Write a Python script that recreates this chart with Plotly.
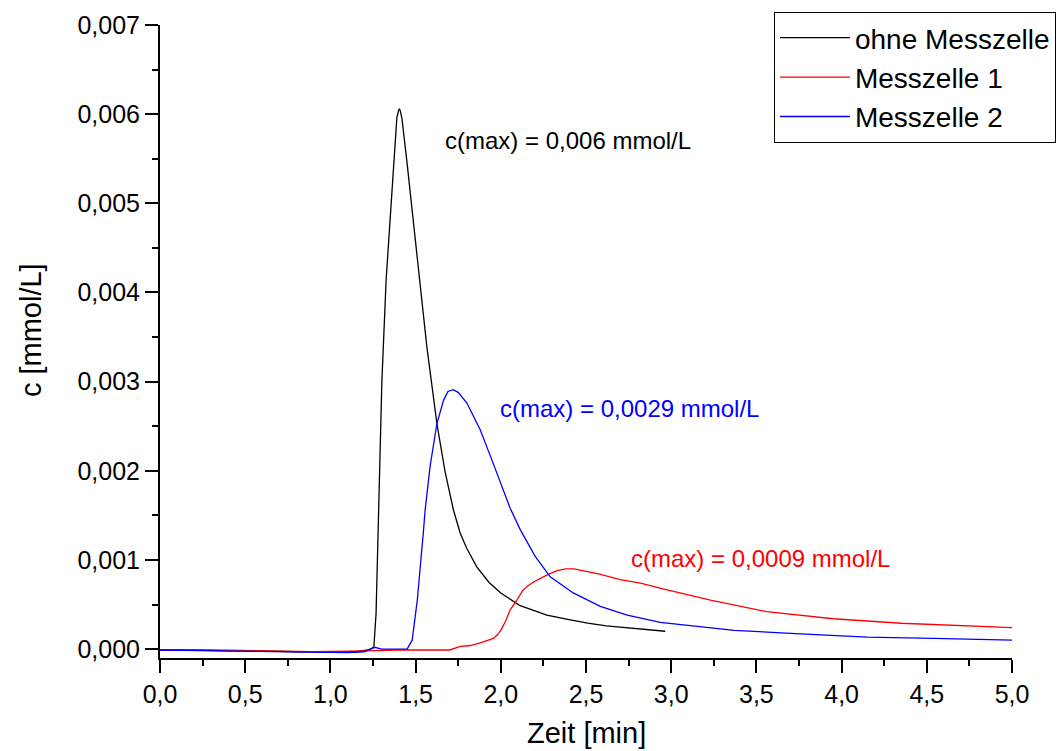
import plotly.graph_objects as go

# ---- data ----
t_ohne = [0.0, 0.2, 0.4, 0.6, 0.8, 1.0, 1.15, 1.22, 1.255, 1.268, 1.282, 1.302, 1.327, 1.355, 1.375, 1.39,
          1.40, 1.405, 1.41, 1.42, 1.45, 1.48, 1.523, 1.566, 1.625, 1.672, 1.722, 1.762, 1.8, 1.86, 1.93,
          2.0, 2.11, 2.27, 2.4, 2.51, 2.62, 2.74, 2.85, 2.965]
c_ohne = [-0.00001, -0.00001, -0.00002, -0.00002, -0.00003, -0.00003, -0.00003, -0.00001, 0.00002, 0.0004,
          0.00156, 0.0030, 0.00414, 0.0050, 0.0056, 0.00596, 0.00604, 0.00606, 0.00604, 0.00595, 0.00545,
          0.0049, 0.00414, 0.00339, 0.00253, 0.0020, 0.00156, 0.0013, 0.00113, 0.00092, 0.00075, 0.00063,
          0.00049, 0.00038, 0.00033, 0.00029, 0.00026, 0.00024, 0.00022, 0.0002]

t_mz1 = [0.0, 0.3, 0.6, 0.9, 1.2, 1.4, 1.6, 1.70, 1.762, 1.82, 1.88, 1.957, 1.98, 2.0, 2.03, 2.055, 2.094,
         2.13, 2.16, 2.19, 2.23, 2.27, 2.33, 2.38, 2.43, 2.51, 2.58, 2.70, 2.82, 2.94, 3.23, 3.56, 3.95,
         4.35, 4.74, 5.0]
c_mz1 = [-0.00001, -0.00001, -0.00002, -0.00003, -0.00002, -0.00001, -0.00001, -0.00001, 0.00003, 0.00004,
         0.00007, 0.00012, 0.00016, 0.00021, 0.00032, 0.00044, 0.00055, 0.00066, 0.00071, 0.00075, 0.00079,
         0.00083, 0.00088, 0.0009, 0.0009, 0.00087, 0.00084, 0.00078, 0.00074, 0.00068, 0.00055, 0.00042,
         0.00034, 0.00029, 0.00026, 0.00024]

t_mz2 = [0.0, 0.3, 0.6, 0.9, 1.1, 1.2, 1.26, 1.3, 1.4, 1.45, 1.48, 1.51, 1.545, 1.556, 1.585, 1.625, 1.664,
         1.69, 1.72, 1.75, 1.801, 1.879, 1.938, 1.996, 2.055, 2.114, 2.202, 2.29, 2.425, 2.584, 2.742, 2.936,
         3.37, 3.76, 4.15, 4.54, 5.0]
c_mz2 = [-0.00001, -0.00002, -0.00003, -0.00004, -0.00004, -0.00003, 0.00002, 0.0, 0.0, 0.0, 0.0001,
         0.00055, 0.0013, 0.00156, 0.00205, 0.00253, 0.00279, 0.00289, 0.00291, 0.00288, 0.00276, 0.00246,
         0.00217, 0.00187, 0.00158, 0.00134, 0.00104, 0.00081, 0.00063, 0.00048, 0.00038, 0.0003, 0.00021,
         0.00017, 0.000135, 0.00012, 0.0001]

series_names = ["ohne Messzelle", "Messzelle 1", "Messzelle 2"]
series_colors = ["#000000", "#ff0000", "#0000ff"]
annot_texts = ["c(max) = 0,006 mmol/L", "c(max) = 0,0029 mmol/L", "c(max) = 0,0009 mmol/L"]
x_title = "Zeit [min]"
y_title = "c [mmol/L]"

FONT = "Liberation Sans, Arial, sans-serif"

fig = go.Figure()
for t, c, name, col in zip([t_ohne, t_mz1, t_mz2], [c_ohne, c_mz1, c_mz2], series_names, series_colors):
    fig.add_trace(go.Scatter(x=t, y=c, mode="lines", name=name,
                             line=dict(color=col, width=1.3)))

# value annotations
for txt, col, ax, ay in zip(annot_texts, ["#000000", "#0000ff", "#ff0000"],
                            [1.662, 1.985, 2.754], [0.00571, 0.0027, 0.00102]):
    fig.add_annotation(x=ax, y=ay, text=txt, xanchor="left", yanchor="middle",
                       showarrow=False, font=dict(family=FONT, size=24, color=col))

# axis titles
fig.add_annotation(x=0.5, y=-0.1185, xref="paper", yref="paper", text=x_title,
                   xanchor="center", yanchor="middle", showarrow=False,
                   font=dict(family=FONT, size=29, color="black"))
fig.add_annotation(x=-0.1514, y=0.518, xref="paper", yref="paper", text=y_title, textangle=-90,
                   xanchor="center", yanchor="middle", showarrow=False,
                   font=dict(family=FONT, size=29, color="black"))

axis_common = dict(showgrid=False, zeroline=False, showline=True, linecolor="black", linewidth=2,
                   ticks="outside", ticklen=13, tickwidth=2, tickcolor="black",
                   tickfont=dict(family=FONT, size=25, color="black"))

fig.update_xaxes(range=[0, 5], dtick=0.5, tick0=0, tickformat=".1f",
                 minor=dict(ticks="outside", ticklen=6, tickwidth=2, tickcolor="black", dtick=0.25),
                 **axis_common)
fig.update_yaxes(range=[-0.0001, 0.007], dtick=0.001, tick0=0, tickformat=".3f",
                 minor=dict(ticks="outside", ticklen=6, tickwidth=2, tickcolor="black", dtick=0.0005),
                 **axis_common)

fig.update_layout(
    width=1061, height=751,
    margin=dict(l=160, r=49, t=25, b=93, autoexpand=False),
    paper_bgcolor="white", plot_bgcolor="white",
    separators=",.",
    font=dict(family=FONT, color="black"),
    legend=dict(x=1.0516, y=1.0205, xanchor="right", yanchor="top",
                bgcolor="white", bordercolor="black", borderwidth=1,
                font=dict(family=FONT, size=28, color="black"), itemwidth=70,
                tracegroupgap=0),
)

fig.write_html("out.html")
